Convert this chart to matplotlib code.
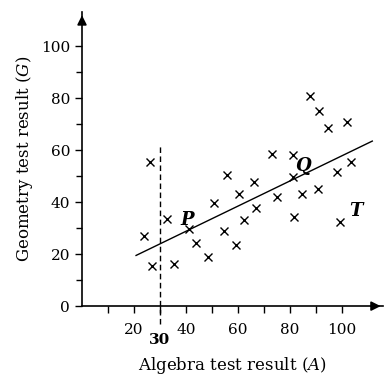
import numpy as np
import matplotlib
matplotlib.use("Agg")
import matplotlib.pyplot as plt

plt.rcParams['font.family'] = ['DejaVu Serif']
plt.rcParams['mathtext.fontset'] = 'dejavuserif'

# scores
algebra = [24, 26.2, 26.8, 32.8, 35.3, 41.2, 43.7, 48.3, 50.8, 54.6,
           55.8, 59.1, 60.3, 62.3, 66.3, 67.1, 73.2, 74.9, 81.3, 81.3,
           81.4, 84.7, 87.7, 91.2, 94.6, 91.0, 98.2, 101.8, 103.5, 99.1]
geometry = [26.9, 55.3, 15.5, 33.6, 16.3, 29.5, 24.1, 18.8, 39.7, 28.8,
            50.6, 23.7, 43.3, 33.3, 47.7, 37.6, 58.5, 42.1, 58.1, 49.5,
            34.4, 43.1, 80.9, 75.0, 68.5, 45.1, 51.7, 71.0, 55.6, 32.3]

# line of best fit (end points)
fit_a = [20.8, 111.7]
fit_g = [19.5, 63.5]

# dashed line at A = 30
cut_a = 30
cut_g = [-7, 62.5]

point_labels = ['P', 'Q', 'T']
label_a = [40.3, 84.9, 105.4]
label_g = [33.3, 54.0, 36.7]

fig = plt.figure(figsize=(3.85, 3.77), dpi=100)
ax = fig.add_axes([0.213, 0.188, 0.783, 0.779])
ax.set_xlim(0, 116)
ax.set_ylim(0, 113)

ax.plot(algebra, geometry, 'x', color='black', markersize=5.5, mew=1.0)
ax.plot(fit_a, fit_g, '-', color='black', lw=1.0)
ax.plot([cut_a, cut_a], cut_g, '--', color='black', lw=1.0,
        dashes=(4, 2.5), clip_on=False)

for lab, a, g in zip(point_labels, label_a, label_g):
    ax.text(a, g, lab, fontsize=13, fontweight='bold', style='italic',
            ha='center', va='center')

for s in ['top', 'right']:
    ax.spines[s].set_visible(False)
ax.spines['left'].set_linewidth(1.2)
ax.spines['bottom'].set_linewidth(1.2)
ax.annotate('', xy=(1.0, 0), xytext=(0.95, 0), xycoords='axes fraction',
            arrowprops=dict(arrowstyle='-|>', color='black', lw=1.2,
                            mutation_scale=14))
ax.annotate('', xy=(0, 1.0), xytext=(0, 0.95), xycoords='axes fraction',
            arrowprops=dict(arrowstyle='-|>', color='black', lw=1.2,
                            mutation_scale=14))

ax.set_xticks(np.arange(10, 101, 10))
ax.set_xticklabels(['', '20', '', '40', '', '60', '', '80', '', '100'])
ax.set_yticks(np.arange(0, 101, 20))
ax.set_yticks(np.arange(10, 100, 20), minor=True)
ax.tick_params(axis='both', labelsize=11, length=5, width=1.0)
ax.tick_params(axis='x', pad=7)
ax.tick_params(axis='y', which='minor', length=4, width=1.0)
ax.text(cut_a, -13, '30', fontsize=11, fontweight='bold',
        ha='center', va='center')

ax.set_xlabel('Algebra test result ($A$)', fontsize=12, labelpad=13)
ax.set_ylabel('Geometry test result ($G$)', fontsize=12, labelpad=4)

fig.savefig('out.png', dpi=100)
